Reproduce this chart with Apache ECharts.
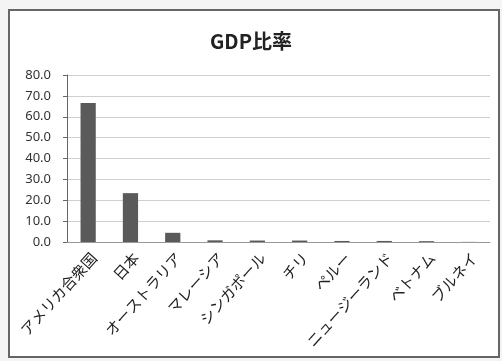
<!DOCTYPE html>
<html><head><meta charset="utf-8">
<script src="https://cdn.jsdelivr.net/npm/echarts@6/dist/echarts.min.js"></script>
<style>html,body{margin:0;padding:0;background:#f4f4f4}#c{width:502px;height:361px}</style>
</head><body><div id="c"></div>
<script>
const categories = ["アメリカ合衆国","日本","オーストラリア","マレーシア","シンガポール","チリ","ペルー","ニュージーランド","ベトナム","ブルネイ"];
const values = [66.6, 23.4, 4.4, 0.8, 0.7, 0.7, 0.5, 0.5, 0.4, 0.05];
const chart = echarts.init(document.getElementById('c'));
chart.setOption({
  backgroundColor: '#f4f4f4',
  graphic: [{type:'rect', shape:{x:9,y:10,width:490,height:347}, style:{fill:'#fff', stroke:'#666', lineWidth:2}, z:-10}],
  title: {text:'GDP比率', left:'center', top:26, textStyle:{fontFamily:'Noto Sans CJK JP', fontSize:20, fontWeight:'bold', color:'#222'}},
  grid: {left:67, right:12, top:75, bottom:119},
  xAxis: {type:'category', data:categories,
    axisLine:{lineStyle:{color:'#999'}}, axisTick:{show:false},
    axisLabel:{interval:0, rotate:48, color:'#222', fontSize:15, fontFamily:'Noto Sans CJK JP', margin:8,
      align:'right', verticalAlign:'top'}},
  yAxis: {type:'value', min:0, max:80, interval:10,
    axisLine:{show:true, lineStyle:{color:'#666'}}, axisTick:{show:true, length:4, lineStyle:{color:'#666'}},
    splitLine:{lineStyle:{color:'#cfcfcf'}},
    axisLabel:{formatter:v=>v.toFixed(1), color:'#333', fontSize:13, fontFamily:'Noto Sans', margin:16}},
  series: [{type:'bar', data:values, barWidth:'36%', itemStyle:{color:'#5a5a5a'}}]
});
</script></body></html>
